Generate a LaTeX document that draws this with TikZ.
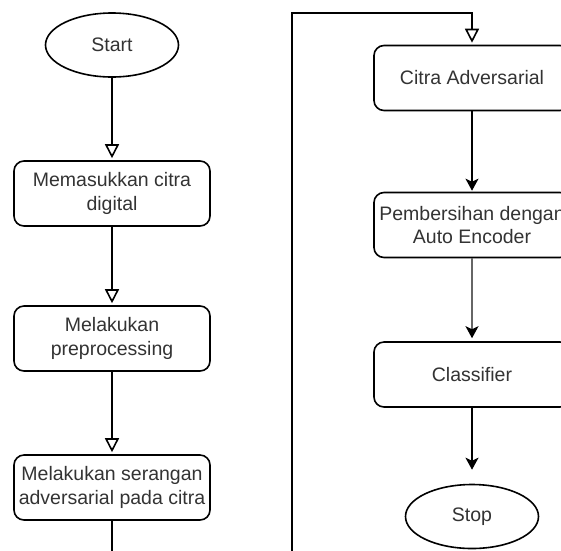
\documentclass[tikz,border=0pt]{standalone}
\usepackage{fontspec}
\setmainfont{Liberation Sans}
\usetikzlibrary{shapes.geometric,arrows.meta}

\begin{document}
\begin{tikzpicture}[x=1pt,y=-1pt,line width=1.6pt,
		tulisan/.style={text=black!80,font=\fontsize{19.5}{23.5}\selectfont},
		langkah/.style={tulisan,draw,rounded corners=10pt,minimum width=196pt,minimum height=65pt,inner sep=0pt,align=center},
		terminal/.style={tulisan,draw,ellipse,minimum width=133pt,minimum height=64pt,inner sep=0pt},
		panahbuka/.style={-{Triangle[open,length=14pt,width=14pt]},shorten >=2pt},
		panahisi/.style={-{Stealth[length=12pt,width=13pt,inset=3pt,color=black]}}]
	\useasboundingbox (0,0) rectangle (561,550);
	\clip (0,0) rectangle (561,550);
			% kolom kiri
			\node[terminal] (start) at (112,45) {Start};
			\node[langkah] (masuk) at (112,193.5) {Memasukkan citra\\digital};
			\node[langkah] (prepro) at (112,338.5) {Melakukan\\preprocessing};
			\node[langkah] (serang) at (112,487.5) {Melakukan serangan\\adversarial pada citra};
			% kolom kanan
			\node[langkah] (adv) at (472,78) {Citra Adversarial};
			\node[langkah] (bersih) at (472,225) {Pembersihan dengan\\Auto Encoder};
			\node[langkah] (klasif) at (472,374.5) {Classifier};
			\node[terminal] (stop) at (472,516.5) {Stop};
			\coordinate (putus1) at (112,560);
			\coordinate (putus2) at (292,560);
			\coordinate (belok) at (472,13);
			% penghubung
			\draw[panahbuka] (start) -- (masuk);
			\draw[panahbuka] (masuk) -- (prepro);
			\draw[panahbuka] (prepro) -- (serang);
			\draw (serang) -- (putus1);
			\draw[panahbuka] (putus2) |- (belok) -- (adv.north);
			\draw[panahisi,shorten >=1pt] (adv) -- (bersih);
			\draw[panahisi,black!60,shorten >=3pt] (bersih) -- (klasif);
			\draw[panahisi,shorten >=14pt] (klasif) -- (stop);
		\end{tikzpicture}
\end{document}
